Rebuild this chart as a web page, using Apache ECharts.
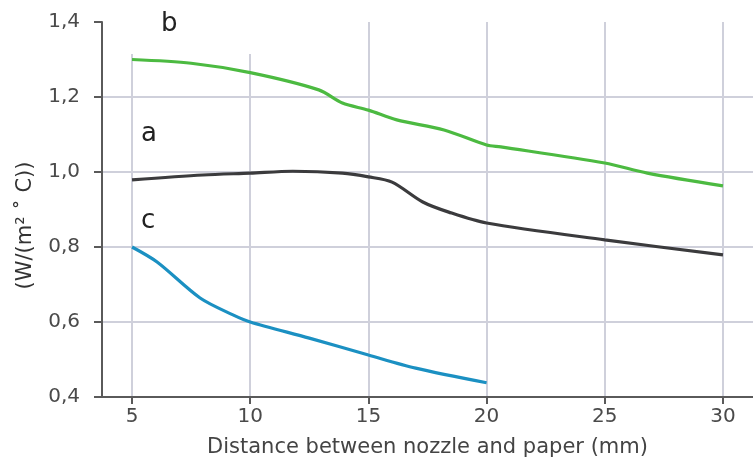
<!DOCTYPE html>
<html>
<head>
<meta charset="utf-8">
<script src="https://cdn.jsdelivr.net/npm/echarts@6/dist/echarts.min.js"></script>
<style>
  html, body { margin: 0; padding: 0; background: #fff; }
  #chart { width: 753px; height: 473px; }
</style>
</head>
<body>
<div id="chart"></div>
<script>
// curve a (dark grey)
const aX = [5, 8, 10, 11.8, 13.9, 15, 16, 17.3, 18.4, 20, 25, 30];
const aY = [0.979, 0.992, 0.997, 1.002, 0.997, 0.987, 0.973, 0.92, 0.893, 0.864, 0.819, 0.779];
// curve b (green)
const bX = [5, 7.5, 10, 12.9, 13.9, 15, 16.2, 18.2, 20, 20.6, 25, 26.8, 30];
const bY = [1.3, 1.29, 1.265, 1.219, 1.184, 1.165, 1.139, 1.112, 1.072, 1.067, 1.024, 0.997, 0.963];
// curve c (blue)
const cX = [5, 6.06, 7.88, 9.27, 10, 12.5, 15, 17, 20];
const cY = [0.8, 0.76, 0.664, 0.619, 0.6, 0.557, 0.512, 0.477, 0.438];

const xTicks = [5, 10, 15, 20, 25, 30];

const pairs = (xs, ys) => xs.map((x, i) => [x, ys[i]]);
const font = "DejaVu Sans";
const gridColor = "#cfd0db";
const axisColor = "#5a5a5a";

const chart = echarts.init(document.getElementById("chart"), null, { renderer: "canvas" });
chart.setOption({
  animation: false,
  backgroundColor: "#fff",
  grid: { left: 102, right: 0, top: 22, bottom: 76 },
  xAxis: {
    type: "value", min: 3.73, max: 31.27,
    name: "Distance between nozzle and paper (mm)",
    nameLocation: "middle", nameGap: 40,
    nameTextStyle: { fontFamily: font, fontSize: 21, color: "#444" },
    axisLine: { lineStyle: { color: axisColor, width: 2 } },
    axisTick: { customValues: xTicks, length: 7, lineStyle: { color: axisColor, width: 2 } },
    axisLabel: { customValues: xTicks, margin: 10, fontFamily: font, fontSize: 20, color: "#4a4a4a" },
    splitLine: { show: true, lineStyle: { color: gridColor, width: 2 } },
  },
  yAxis: {
    type: "value", min: 0.4, max: 1.4, interval: 0.2,
    name: "(W/(m\u00b2 \u02da C))",
    nameLocation: "middle", nameGap: 66,
    nameTextStyle: { fontFamily: font, fontSize: 21, color: "#333", padding: [0, 32, 0, 0] },
    axisLine: { show: true, lineStyle: { color: axisColor, width: 2 } },
    axisTick: { show: true, length: 8, lineStyle: { color: axisColor, width: 2 } },
    axisLabel: {
      margin: 22, fontFamily: font, fontSize: 20, color: "#4a4a4a",
      formatter: (v) => v.toFixed(1).replace(".", ","),
    },
    splitLine: { show: true, showMinLine: false, showMaxLine: false, lineStyle: { color: gridColor, width: 2 } },
  },
  graphic: [
    { type: "rect", shape: { x: 104, y: 0, width: 190, height: 54 }, style: { fill: "#fff" }, z: 1 },
    { type: "text", left: 161, top: 11, z: 2, style: { text: "b", font: "26px " + font, fill: "#222" } },
    { type: "text", left: 141, top: 121, z: 2, style: { text: "a", font: "26px " + font, fill: "#222" } },
    { type: "text", left: 141, top: 208, z: 2, style: { text: "c", font: "26px " + font, fill: "#222" } },
  ],
  series: [
    { type: "line", data: pairs(aX, aY), smooth: 0.3, symbol: "none", lineStyle: { color: "#3b3b3d", width: 3.2 } },
    { type: "line", data: pairs(bX, bY), smooth: 0.3, symbol: "none", lineStyle: { color: "#4cba41", width: 3.2 } },
    { type: "line", data: pairs(cX, cY), smooth: 0.3, symbol: "none", lineStyle: { color: "#1b90c2", width: 3.2 } },
  ],
});
</script>
</body>
</html>
